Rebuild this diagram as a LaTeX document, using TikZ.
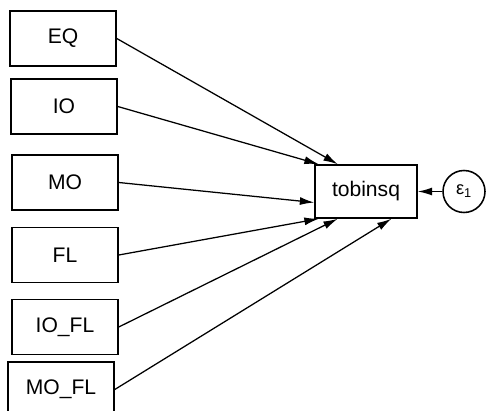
\documentclass[tikz,border=0pt]{standalone}
\usepackage{fontspec}
\setmainfont{Liberation Sans}
\usetikzlibrary{arrows.meta}

\tikzset{
  varbox/.style={draw, line width=1.1pt, minimum width=2.65cm, minimum height=1.375cm, font=\fontsize{15}{17}\selectfont},
  errnode/.style={draw, circle, line width=1.1pt, minimum size=1.05cm, inner sep=0pt, font=\fontsize{13}{15}\selectfont},
  path/.style={-{Latex[length=3.6mm, width=2mm]}, line width=0.9pt}
}

\begin{document}
\begin{tikzpicture}
    \clip (0,0) rectangle (12.175,-10.275);

    % Variables explicatives
    \node[varbox] (EQ)   at (1.575,-0.9625) {EQ};
    \node[varbox] (IO)   at (1.6,-2.6625)   {IO};
    \node[varbox] (MO)   at (1.625,-4.5625) {MO};
    \node[varbox] (FL)   at (1.625,-6.375)  {FL};
    \node[varbox] (IOFL) at (1.625,-8.175)  {IO\_FL};
    \node[varbox] (MOFL) at (1.525,-9.7375) {MO\_FL};

    % Variable dépendante et erreur
    \node[varbox, minimum width=2.55cm, minimum height=1.325cm] (tob) at (9.15,-4.7875) {tobinsq};
    \node[errnode] (eps) at (11.6,-4.7875) {ε\textsubscript{1}};

    % Flèches vers tobinsq
    \draw[path] (EQ.east)   -- (tob.136);
    \draw[path] (IO.east)   -- (tob.150);
    \draw[path] (MO.east)   -- (tob.192);
    \draw[path] (FL.east)   -- (tob.210);
    \draw[path] (IOFL.east) -- (tob.224);
    \draw[path] (MOFL.east) -- (tob.313);
    \draw[path] (eps) -- (tob);
\end{tikzpicture}
\end{document}
